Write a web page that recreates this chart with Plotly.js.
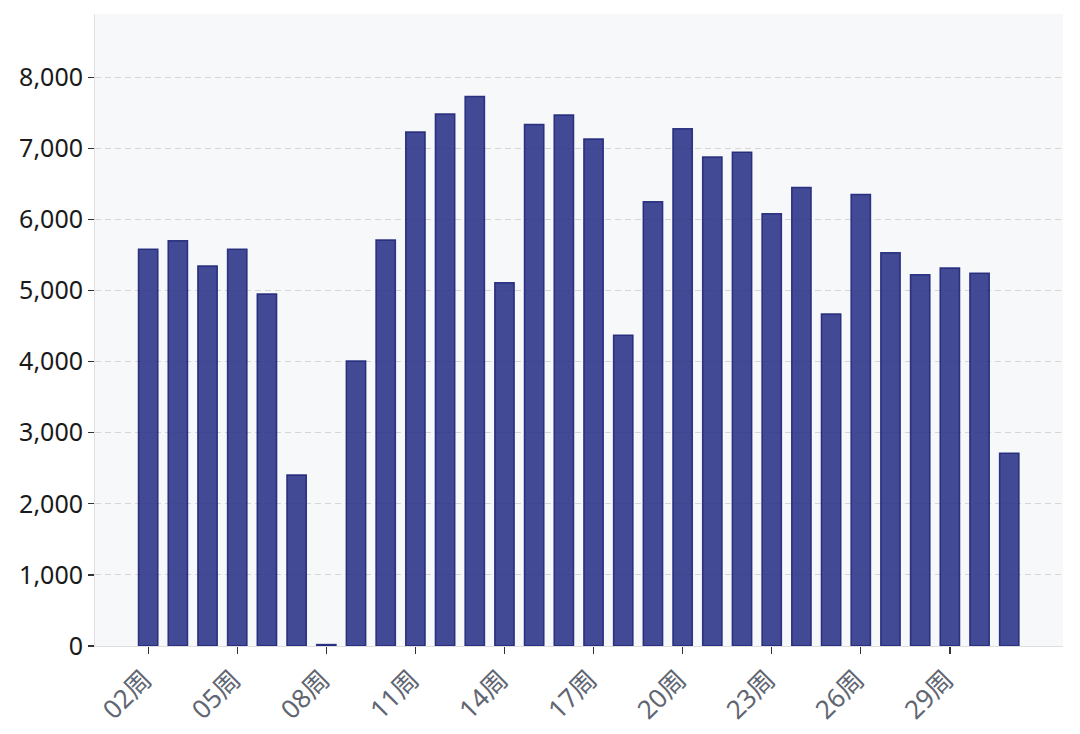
<!DOCTYPE html>
<html>
<head>
<meta charset="utf-8">
<script src="https://cdn.plot.ly/plotly-3.0.1.min.js"></script>
<style>
  html, body { margin: 0; padding: 0; background: #fff; }
  #chart { width: 1080px; height: 734px; }
</style>
</head>
<body>
<div id="chart"></div>
<script>
// weekly values, 02周 .. 31周
const weeks = ['02周', '03周', '04周', '05周', '06周', '07周', '08周', '09周', '10周', '11周',
               '12周', '13周', '14周', '15周', '16周', '17周', '18周', '19周', '20周', '21周',
               '22周', '23周', '24周', '25周', '26周', '27周', '28周', '29周', '30周', '31周'];
const counts = [5580, 5700, 5345, 5580, 4950, 2405, 20, 4010, 5710, 7230,
                7485, 7730, 5110, 7335, 7470, 7130, 4370, 6250, 7275, 6880,
                6945, 6080, 6448, 4670, 6350, 5530, 5222, 5318, 5245, 2712];
// every third week gets a label
const tickWeeks = weeks.filter((w, i) => i % 3 === 0);

const fontFamily = '"Noto Sans", "Noto Sans CJK SC", sans-serif';

const trace = {
    x: weeks,
    y: counts,
    type: 'bar',
    width: 0.65,
    marker: {
        color: 'rgba(34,44,130,0.85)',
        line: { color: 'rgba(30,38,120,0.9)', width: 1.5 }
    },
    hoverinfo: 'x+y'
};

const layout = {
    width: 1080, height: 734,
    paper_bgcolor: '#ffffff', plot_bgcolor: '#f7f8fa',
    margin: { l: 95, r: 17, t: 14, b: 88 },
    font: { family: fontFamily, color: '#222' },
    showlegend: false,
    xaxis: {
        type: 'category',
        range: [-1.79, 30.81],
        tickmode: 'array', tickvals: tickWeeks, ticktext: tickWeeks,
        tickangle: -45,
        tickfont: { size: 26, color: '#5f6672', family: fontFamily },
        ticklabelshift: -4,
        ticks: 'outside', ticklen: 7, tickcolor: '#333', tickwidth: 1.3,
        showline: true, linecolor: '#dedede', linewidth: 1,
        showgrid: false, zeroline: false
    },
    yaxis: {
        range: [0, 8890],
        dtick: 1000, tickformat: ',d',
        tickfont: { size: 25, color: '#1a1a1a', family: fontFamily },
        ticks: 'outside', ticklen: 6, tickcolor: '#333', tickwidth: 1.3,
        showline: true, linecolor: '#e0e0e0', linewidth: 1,
        showgrid: true, gridcolor: '#d6d6d6', griddash: '6px,4px', gridwidth: 1,
        zeroline: false
    }
};

Plotly.newPlot('chart', [trace], layout, { displayModeBar: false, staticPlot: true });
</script>
</body>
</html>
